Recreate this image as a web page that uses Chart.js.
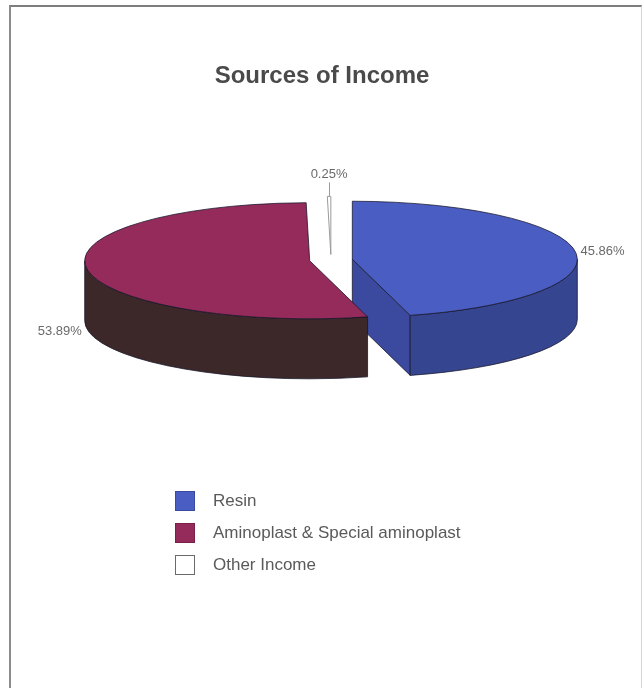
<!DOCTYPE html>
<html>
<head>
<meta charset="utf-8">
<script src="https://cdn.jsdelivr.net/npm/chart.js@4.4.1/dist/chart.umd.min.js"></script>
<style>
  html, body { margin: 0; padding: 0; background: #ffffff; }
  #wrap { position: relative; width: 644px; height: 688px; overflow: hidden; }
  #frame { position: absolute; left: 9px; top: 5px; width: 630px; height: 720px;
           border-left: 2px solid #8c8c8c; border-top: 2px solid #7d7d7d; border-right: 1px solid #d4d4d4; }
  #c { position: absolute; left: 0; top: 0; }
  #legend { position: absolute; left: 175px; top: 485px; font-family: "Liberation Sans", Arial, sans-serif;
            font-size: 17px; color: #5a5a5a; }
  .item { display: flex; align-items: center; height: 32px; }
  .sw { width: 20px; height: 20px; box-sizing: border-box; margin-right: 18px; }
</style>
</head>
<body>
<div id="wrap">
  <div id="frame"></div>
  <canvas id="c" width="644" height="688"></canvas>
  <div id="legend"></div>
</div>
<script>
// ---- data ----
const categories = ['Resin', 'Aminoplast & Special aminoplast', 'Other Income'];
const incomeShare = [45.86, 53.89, 0.25];
const chartTitle = 'Sources of Income';

// ---- styling ----
const topColors  = ['#4a5dc3', '#952b5b', '#ffffff'];
const sideColors = ['#36458f', '#3c2829', '#ffffff'];
const cutColors  = ['#3b4a9e', '#4a2a33', '#ffffff'];
const swatchBorders = ['#3a4aa0', '#7a2048', '#6a6a6a'];

// geometry of each slice, taken from the library's arc elements
function sliceGeometry(chart, o) {
  const arcs = chart.getDatasetMeta(0).data;
  const x0 = arcs[0].x, y0 = arcs[0].y;
  return arcs.map((a, i) => {
    const h = (a.startAngle + a.endAngle) / 2;
    const dx = Math.cos(h) * o.explode, dy = Math.sin(h) * o.explode;
    return { arc: a, dx, dy, x0, y0,
             sx: o.centerX + dx, sy: o.centerY + dy * o.tilt, R: a.outerRadius,
             start: a.startAngle, end: a.endAngle, h, circ: a.circumference, i };
  });
}

const pie3d = {
  id: 'pie3d',
  // the plugin draws the arcs itself (tilted and exploded), so skip the flat pass
  beforeDatasetDraw() { return false; },
  afterDatasetsDraw(chart, args, o) {
    const ctx = chart.ctx;
    const g = sliceGeometry(chart, o);
    const k = o.tilt, D = o.depth;
    ctx.save();
    ctx.lineWidth = 1;
    ctx.strokeStyle = o.edge;
    // radial cut faces that face the viewer
    g.forEach(s => {
      if (s.circ < 0.05) return;
      [[s.start, 'start'], [s.end, 'end']].forEach(([t, w]) => {
        const vis = w === 'start' ? Math.cos(t) < -0.01 : Math.cos(t) > 0.01;
        if (!vis) return;
        const ex = s.sx + s.R * Math.cos(t), ey = s.sy + s.R * k * Math.sin(t);
        ctx.beginPath();
        ctx.moveTo(s.sx, s.sy); ctx.lineTo(ex, ey);
        ctx.lineTo(ex, ey + D); ctx.lineTo(s.sx, s.sy + D);
        ctx.closePath();
        ctx.fillStyle = cutColors[s.i]; ctx.fill(); ctx.stroke();
      });
    });
    // outer walls (front half only)
    g.forEach(s => {
      const lo = Math.max(s.start, 0), hi = Math.min(s.end, Math.PI);
      if (hi <= lo) return;
      ctx.beginPath();
      ctx.ellipse(s.sx, s.sy, s.R, s.R * k, 0, lo, hi, false);
      ctx.ellipse(s.sx, s.sy + D, s.R, s.R * k, 0, hi, lo, true);
      ctx.closePath();
      ctx.fillStyle = sideColors[s.i]; ctx.fill(); ctx.stroke();
    });
    ctx.restore();
    // top faces: the library's own arc elements, squashed and exploded
    g.forEach(s => {
      ctx.save();
      ctx.translate(o.centerX, o.centerY);
      ctx.scale(1, k);
      ctx.translate(-s.x0 + s.dx, -s.y0 + s.dy);
      s.arc.draw(ctx);
      ctx.restore();
    });
    ctx.save();
    // top-face outlines
    g.forEach(s => {
      ctx.beginPath();
      ctx.moveTo(s.sx, s.sy);
      ctx.ellipse(s.sx, s.sy, s.R, s.R * k, 0, s.start, s.end, false);
      ctx.closePath();
      ctx.lineWidth = 1;
      ctx.strokeStyle = s.i === 2 ? '#9a9a9a' : o.edge;
      ctx.stroke();
    });
    // percentage labels
    const total = incomeShare.reduce((a, b) => a + b, 0);
    ctx.font = '13px "Liberation Sans", Arial, sans-serif';
    ctx.fillStyle = '#6a6a6a';
    ctx.textBaseline = 'middle';
    g.forEach(s => {
      const txt = (incomeShare[s.i] / total * 100).toFixed(2) + '%';
      const px = s.sx + s.R * Math.cos(s.h);
      const py = s.sy + s.R * k * Math.sin(s.h);
      if (s.circ < 0.1) {
        ctx.strokeStyle = '#9a9a9a';
        ctx.beginPath();
        ctx.moveTo(Math.round(px) + 0.5, py); ctx.lineTo(Math.round(px) + 0.5, py - o.leader);
        ctx.stroke();
        ctx.textAlign = 'center';
        ctx.fillText(txt, px, py - o.leader - 8);
      } else {
        const front = Math.sin(s.h) > 0;
        const y = py + (front ? D + 3 : 0);
        const right = Math.cos(s.h) >= 0;
        ctx.textAlign = right ? 'left' : 'right';
        ctx.fillText(txt, px + (right ? o.gap : -o.gap), y);
      }
    });
    ctx.restore();
  }
};

const chart = new Chart(document.getElementById('c'), {
  type: 'pie',
  data: {
    labels: categories,
    datasets: [{
      data: incomeShare,
      backgroundColor: topColors,
      borderWidth: 0
    }]
  },
  options: {
    responsive: false,
    animation: false,
    events: [],
    radius: 225,
    plugins: {
      legend: { display: false },
      tooltip: { enabled: false },
      title: {
        display: true,
        text: chartTitle,
        color: '#4a4a4a',
        font: { family: '"Liberation Sans", Arial, sans-serif', size: 24, weight: 'bold' },
        padding: { top: 62, bottom: 10 }
      },
      pie3d: { tilt: 0.258, depth: 60, centerX: 331, centerY: 260, explode: 21.5,
               edge: 'rgba(20,20,40,0.75)', gap: 5, leader: 14 }
    }
  },
  plugins: [pie3d]
});

// HTML legend built from the chart's own legend items
const items = chart.options.plugins.legend.labels.generateLabels(chart);
const legendEl = document.getElementById('legend');
items.forEach((it, i) => {
  const row = document.createElement('div');
  row.className = 'item';
  const sw = document.createElement('span');
  sw.className = 'sw';
  sw.style.background = it.fillStyle;
  sw.style.border = '1px solid ' + swatchBorders[i];
  const tx = document.createElement('span');
  tx.textContent = it.text;
  row.appendChild(sw); row.appendChild(tx);
  legendEl.appendChild(row);
});
</script>
</body>
</html>
